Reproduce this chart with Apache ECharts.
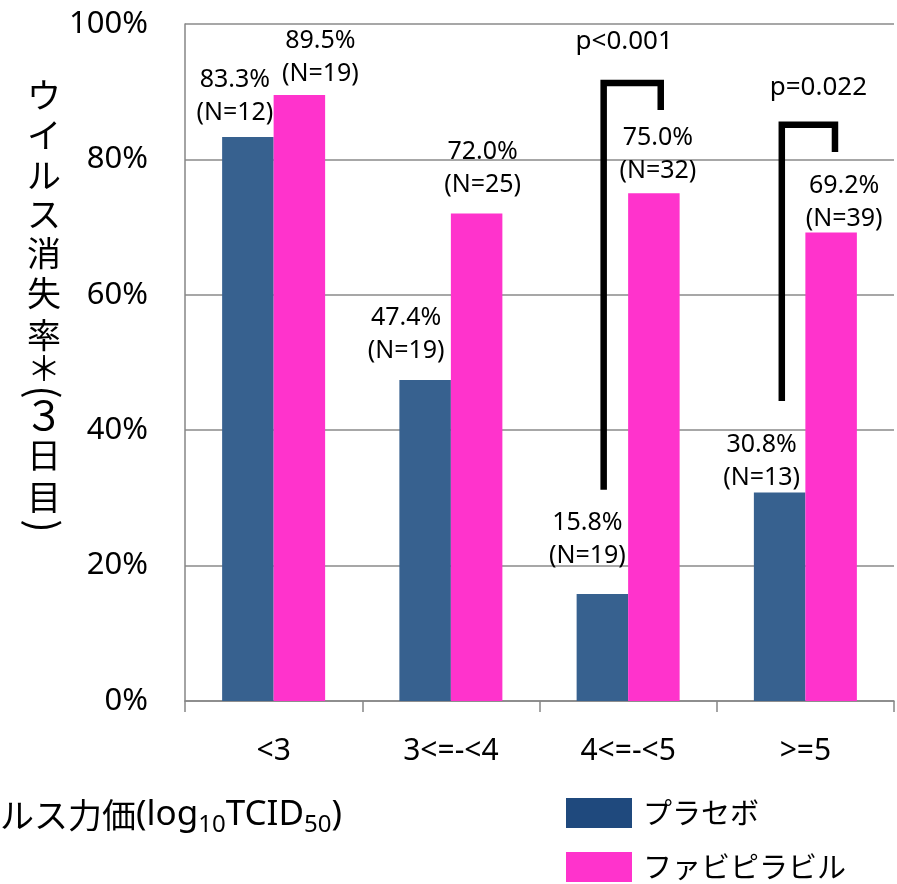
<!DOCTYPE html>
<html><head><meta charset="utf-8">
<script src="https://cdn.jsdelivr.net/npm/echarts@6/dist/echarts.min.js"></script>
<style>html,body{margin:0;padding:0;background:#fff}#c{width:897px;height:884px}</style>
</head><body><div id="c"></div>
<script>
// ---- data ----
const categories = ['<3', '3<=-<4', '4<=-<5', '>=5'];
const seriesNames = ['プラセボ', 'ファビピラビル'];
const placeboRate = [83.3, 47.4, 15.8, 30.8];
const favipiravirRate = [89.5, 72.0, 75.0, 69.2];
const placeboN = [12, 19, 19, 13];
const favipiravirN = [19, 25, 32, 39];
const yMin = 0, yMax = 100, yInterval = 20;
const pLabels = ['p<0.001', 'p=0.022'];
const bracketCategory = [2, 3];
const bracketLeftBottom = [31.2, 44.3];
const bracketTop = [91.3, 85.1];
const bracketRightBottom = [87.3, 81.1];
const yTitleChars = ['ウ', 'イ', 'ル', 'ス', '消', '失', '率', '＊', '(', '３', '日', '目', ')'];

// ---- styles ----
const FONT = "'Noto Sans', 'Noto Sans CJK JP', sans-serif";
const JFONT = "'Noto Sans CJK JP', 'Noto Sans', sans-serif";
const BLUE = '#37618F', PINK = '#FF33CC', LEG_BLUE = '#1F497D';
const blueLabelStyle = [[-13, 8], [-19, 13], [-15, 22], [-18, -2]];
const pinkLabelStyle = [[21, 5], [6, 12], [4, 6], [13, -3]];
const bracketStyle = [
  {l: -0.138, r: 0.184, tx: -8, ty: -41},
  {l: -0.133, r: 0.167, tx: 10, ty: -37}
];
// per-char layout of the stacked y-axis title: [centerY, fontSize, rotated]
const yTitleLayout = [[95,34,0],[135,34,0],[175,34,0],[214,34,0],[253,34,0],[293,34,0],[335,34,0],
  [368,34,0],[392,40,1],[415,40,0],[455,34,0],[497,34,0],[526,40,1]];

const labelBase = {
  show: true, position: 'top', distance: 0, color: '#000',
  fontFamily: FONT, fontSize: 25, lineHeight: 33
};

function makeData(vals, ns, st) {
  return vals.map((v, i) => ({
    value: v,
    n: ns[i],
    label: {offset: [st[i][0], -st[i][1]]}
  }));
}

const titleElements = yTitleChars.map((ch, i) => ({
  type: 'text',
  x: 44, y: yTitleLayout[i][0],
  rotation: yTitleLayout[i][2] ? -Math.PI / 2 : 0,
  style: {
    text: ch, fill: '#000', fontFamily: JFONT, fontSize: yTitleLayout[i][1],
    align: 'center', verticalAlign: 'middle'
  }
}));

const chart = echarts.init(document.getElementById('c'));
chart.setOption({
  animation: false,
  backgroundColor: '#fff',
  grid: {left: 185, right: 3, top: 24, bottom: 183, containLabel: false},
  legend: {
    orient: 'vertical', left: 566, top: 798, padding: 0, height: 86,
    itemWidth: 66, itemHeight: 30, itemGap: 24, icon: 'rect',
    textStyle: {fontFamily: JFONT, fontSize: 29, color: '#000', padding: [0, 0, 0, 6]},
    data: [
      {name: seriesNames[0], itemStyle: {color: LEG_BLUE}},
      {name: seriesNames[1], itemStyle: {color: PINK}}
    ]
  },
  xAxis: {
    type: 'category', data: categories,
    axisLine: {lineStyle: {color: '#868686', width: 1.5}},
    axisTick: {show: true, length: 11, lineStyle: {color: '#868686', width: 1.5}},
    axisLabel: {interval: 0, margin: 35, color: '#000', fontFamily: FONT, fontSize: 30},
    splitLine: {show: false}
  },
  yAxis: {
    type: 'value', min: yMin, max: yMax, interval: yInterval,
    axisLine: {show: true, lineStyle: {color: '#868686', width: 1.5}},
    axisTick: {show: false},
    axisLabel: {formatter: '{value}%', margin: 37, color: '#000', fontFamily: FONT, fontSize: 31},
    splitLine: {show: true, lineStyle: {color: '#8a8a8a', width: 1.5}}
  },
  series: [
    {
      name: seriesNames[0], type: 'bar', barWidth: 51.5, barGap: '0%',
      itemStyle: {color: BLUE},
      label: Object.assign({}, labelBase, {
        formatter: p => p.value.toFixed(1) + '%\n(N=' + p.data.n + ')'
      }),
      data: makeData(placeboRate, placeboN, blueLabelStyle)
    },
    {
      name: seriesNames[1], type: 'bar', barWidth: 51.5, barGap: '0%',
      itemStyle: {color: PINK},
      label: Object.assign({}, labelBase, {
        formatter: p => p.value.toFixed(1) + '%\n(N=' + p.data.n + ')'
      }),
      data: makeData(favipiravirRate, favipiravirN, pinkLabelStyle)
    },
    {
      type: 'custom', name: 'brackets', silent: true, clip: false, z: 5,
      encode: {x: 0, y: [1, 2, 3]},
      data: bracketCategory.map((c, i) => [c, bracketLeftBottom[i], bracketTop[i], bracketRightBottom[i]]),
      renderItem: function (params, api) {
        const i = params.dataIndex;
        const cat = api.value(0);
        const st = bracketStyle[i];
        const band = api.size([1, 0])[0];
        const top = api.coord([cat, api.value(2)]);
        const lb = api.coord([cat, api.value(1)]);
        const rb = api.coord([cat, api.value(3)]);
        const xl = top[0] + st.l * band, xr = top[0] + st.r * band;
        return {
          type: 'group',
          children: [
            {
              type: 'polyline',
              shape: {points: [[xl, lb[1]], [xl, top[1]], [xr, top[1]], [xr, rb[1]]]},
              style: {stroke: '#000', lineWidth: 6.5, fill: null, lineJoin: 'miter', lineCap: 'butt'}
            },
            {
              type: 'text',
              x: (xl + xr) / 2 + st.tx, y: top[1] + st.ty,
              style: {text: pLabels[i], fill: '#000', fontFamily: FONT, fontSize: 26,
                      align: 'center', verticalAlign: 'middle'}
            }
          ]
        };
      }
    }
  ],
  graphic: titleElements.concat([
    {
      type: 'text', left: 0, top: 798,
      style: {
        text: '{a|ルス力価}{b|(log}{s|10}{b|TCID}{s|50}{b|)}',
        fill: '#000',
        rich: {
          a: {fontFamily: JFONT, fontSize: 34, lineHeight: 44, verticalAlign: 'middle'},
          b: {fontFamily: FONT, fontSize: 35, lineHeight: 44, verticalAlign: 'middle'},
          s: {fontFamily: FONT, fontSize: 24, lineHeight: 24, verticalAlign: 'bottom'}
        }
      }
    }
  ])
});
</script>
</body></html>
